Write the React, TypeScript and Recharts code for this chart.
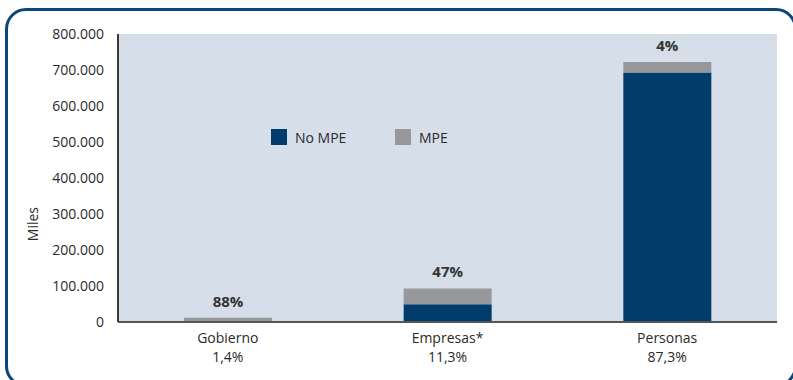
import React from 'react';
import { BarChart, Bar, XAxis, YAxis, CartesianGrid, LabelList } from 'recharts';

// Sector breakdown, values in thousands
const categories = ['Gobierno', 'Empresas*', 'Personas'];
const shareOfTotal = ['1,4%', '11,3%', '87,3%'];
const noMpe = [1400, 49500, 693000];
const mpe = [10200, 43900, 29000];
const mpeShare = ['88%', '47%', '4%'];
const yTicks = [0, 100000, 200000, 300000, 400000, 500000, 600000, 700000, 800000];
const seriesNames = ['No MPE', 'MPE'];

const data = categories.map((name, i) => ({
  name,
  share: shareOfTotal[i],
  noMpe: noMpe[i],
  mpe: mpe[i],
  mpeShare: mpeShare[i],
}));

const FONT = '"Open Sans", sans-serif';
const NAVY = '#003d6d';
const GREY = '#97989b';
const TEXT = '#2a2a2a';
const seriesColors = [NAVY, GREY];

const fmt = (v: number) => String(v).replace(/\B(?=(\d{3})+(?!\d))/g, '.');

// Two-line category tick: sector name and its share of the total
const CategoryTick = (props: any) => {
  const { x, y, payload, index } = props;
  return (
    <g>
      <text x={x} y={y + 18.5} textAnchor="middle" fontFamily={FONT} fontSize={14} fill={TEXT}>
        {payload.value}
      </text>
      <text x={x} y={y + 38} textAnchor="middle" fontFamily={FONT} fontSize={14} fill={TEXT}>
        {shareOfTotal[index]}
      </text>
    </g>
  );
};

const MilesLabel = (props: any) => {
  const { viewBox } = props;
  const cx = viewBox.x + 33;
  const cy = viewBox.y + viewBox.height * 0.66;
  return (
    <text x={cx} y={cy} transform={`rotate(-90, ${cx}, ${cy})`} textAnchor="middle" dominantBaseline="central"
      fontFamily={FONT} fontSize={14} fill={TEXT}>
      Miles
    </text>
  );
};

export default function App() {
  return (
    <div style={{ position: 'absolute', left: 0, top: 0, width: 793, height: 380, overflow: 'hidden', background: '#fff' }}>
      <div style={{
        position: 'absolute', left: 5, top: 8, width: 786, height: 373,
        border: '3px solid #0c4677', borderRadius: 21,
      }} />
      <div style={{ position: 'absolute', left: 0, top: 0 }}>
        <BarChart width={793} height={380} data={data} margin={{ top: 34, right: 16, bottom: 8, left: 0 }}>
          <CartesianGrid fill="#d6deea" stroke="none" horizontal={false} vertical={false} />
          <XAxis dataKey="name" height={50} tick={<CategoryTick />} tickLine={false} tickSize={0}
            axisLine={{ stroke: '#555', strokeWidth: 2 }} interval={0} />
          <YAxis width={118} domain={[0, 800000]} ticks={yTicks} tickFormatter={fmt} tickLine={false}
            tickSize={0} tickMargin={14} axisLine={{ stroke: '#3a3a3a', strokeWidth: 2 }}
            tick={{ fontFamily: FONT, fontSize: 14, fill: TEXT }} label={<MilesLabel />} />
          <Bar dataKey="noMpe" name={seriesNames[0]} stackId="a" fill={NAVY} barSize={88} isAnimationActive={false} />
          <Bar dataKey="mpe" name={seriesNames[1]} stackId="a" fill={GREY} barSize={88} isAnimationActive={false}>
            <LabelList dataKey="mpeShare" position="top" offset={11}
              style={{ fontFamily: FONT, fontSize: 15, fontWeight: 700, fill: '#333' }} />
          </Bar>
        </BarChart>
      </div>
      <div style={{ position: 'absolute', left: 271, top: 129, display: 'flex', fontFamily: FONT, fontSize: 14, color: TEXT }}>
        {seriesNames.map((n, i) => (
          <div key={n} style={{ display: 'flex', alignItems: 'center', width: i === 0 ? 124 : 'auto', height: 16 }}>
            <span style={{ width: 16, height: 16, background: seriesColors[i], display: 'inline-block', marginRight: 8 }} />
            <span>{n}</span>
          </div>
        ))}
      </div>
    </div>
  );
}
